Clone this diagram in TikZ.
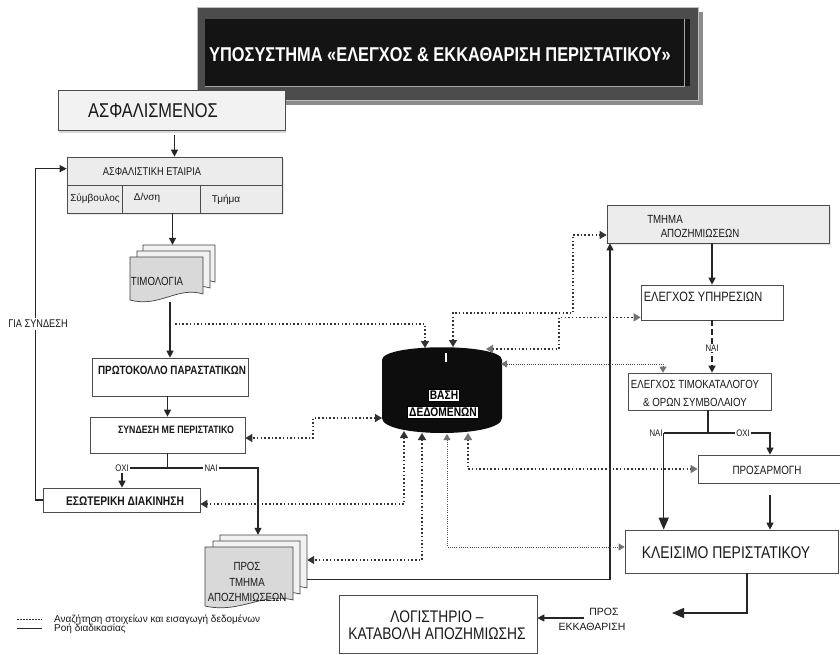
\documentclass[tikz,border=0pt]{standalone}
\usepackage{fontspec}
\setmainfont{Liberation Sans}
\newfontfamily\nar{Liberation Sans}[FakeStretch=0.82]
\usetikzlibrary{arrows.meta,shadows,calc}
\newcommand\fsz[2]{\fontsize{#1}{#2}\selectfont}
\newcommand\docsheet[5]{\draw[sheet,fill=#5] (#1,#2) -- (#3,#2) -- (#3,#4-6) .. controls ({#3-0.35*(#3-#1)},#4-14) and ({#1+0.4*(#3-#1)},#4+8) .. (#1,#4) -- cycle;}
\begin{document}
\begin{tikzpicture}[x=1pt,y=-1pt,
  box/.style={draw=black!70, line width=0.7pt, fill=white, inner sep=0pt, rectangle},
  ghost/.style={inner sep=0pt, rectangle},
  sheet/.style={draw=black!75, line width=0.7pt},
  txt/.style={inner sep=1pt, text=black!90, font=\nar\fsz{10}{12}},
  btxt/.style={inner sep=1pt, text=black!90, font=\nar\bfseries\fsz{10.5}{12}},
  dblabel/.style={rectangle, draw=black, line width=0.6pt, fill=white, inner xsep=1.5pt, inner ysep=1.5pt, text=black, font=\nar\bfseries\fsz{12.5}{13}},
  line/.style={line width=1.3pt, draw=black!85},
  flow/.style={line, -{Triangle[length=7pt,width=7pt]}},
  flowbig/.style={line, -{Triangle[length=12pt,width=10pt]}},
  dashflow/.style={line, dash pattern=on 6pt off 3pt, -{Triangle[length=7pt,width=7pt]}},
  dotl/.style={line width=1.5pt, draw=black!80, dash pattern=on 1.5pt off 2.2pt},
  dot1/.style={dotl, -{Triangle[length=7pt,width=8pt]}},
  dot2/.style={dotl, {Triangle[length=7pt,width=8pt]}-{Triangle[length=7pt,width=8pt]}},
  dotg/.style={dotl, {Triangle[length=7pt,width=8pt,color=black!55]}-{Triangle[length=7pt,width=8pt,color=black!55]}},
  tdot/.style={line width=0.8pt, draw=black!70, dash pattern=on 0.8pt off 1.4pt, {Triangle[length=6pt,width=7pt,color=black!55]}-{Triangle[length=6pt,width=7pt,color=black!55]}},
]
\useasboundingbox (0,0) rectangle (840,655);
\fill[white] (0,0) rectangle (840,655);

% ---------- title ----------
\node[ghost, minimum width=501pt, minimum height=93pt] (title) at (447.5,54) {};
\fill[black!45] (202,12) rectangle (703,105);
\fill[black!70] (title.north west) rectangle (title.south east);
\fill[black!92] (205,19) rectangle (690,86);
\draw[gray!70, line width=0.8pt] (205,86) -- (684,86) -- (684,19);
\draw[gray!50, line width=0.6pt] (title.north west) rectangle (title.south east);
\node[inner sep=0pt, text=white, font=\nar\bfseries\fsz{20}{24}] (titleT) at (440,55) {ΥΠΟΣΥΣΤΗΜΑ «ΕΛΕΓΧΟΣ \& ΕΚΚΑΘΑΡΙΣΗ ΠΕΡΙΣΤΑΤΙΚΟΥ»};

% ---------- left column ----------
\node[box, fill=gray!10, minimum width=227pt, minimum height=40pt,
  drop shadow={shadow xshift=1pt, shadow yshift=-3pt, fill=gray!60}] (asf) at (171.5,110) {};
\node[txt, font=\nar\fsz{20}{24}] (asfT) at (153,111) {ΑΣΦΑΛΙΣΜΕΝΟΣ};

\node[box, fill=gray!15, minimum width=215pt, minimum height=56pt,
  drop shadow={shadow xshift=2pt, shadow yshift=-2pt, fill=gray!35}] (ins) at (174.5,185) {};
\draw[black!70, line width=0.7pt] (ins.west) -- (ins.east) (122,185) -- (122,213) (200,185) -- (200,213);
\node[txt, font=\nar\fsz{11.3}{13}] (insT) at (152,172) {ΑΣΦΑΛΙΣΤΙΚΗ ΕΤΑΙΡΙΑ};
\node[txt, font=\fsz{10}{12}] (c1T) at (95,199) {Σύμβουλος};
\node[txt, font=\fsz{10}{12}] (c2T) at (147,198) {Δ/νση};
\node[txt, font=\fsz{10}{12}] (c3T) at (226,200) {Τμήμα};

% documents TIMOLOGIA
\docsheet{143}{245}{215}{288}{gray!10}
\docsheet{137}{251}{210}{294}{gray!10}
\docsheet{130}{257}{203}{300}{gray!30}
\node[ghost, minimum width=85pt, minimum height=57pt] (tim) at (172.5,273.5) {};
\node[txt, font=\nar\fsz{11.8}{14}] (timT) at (157,281) {ΤΙΜΟΛΟΓΙΑ};

\node[box, minimum width=156pt, minimum height=38pt] (prot) at (170,377) {};
\node[btxt, font=\nar\bfseries\fsz{12}{14}] (protT) at (172,370) {ΠΡΩΤΟΚΟΛΛΟ ΠΑΡΑΣΤΑΤΙΚΩΝ};

\node[box, minimum width=155pt, minimum height=36pt] (syn) at (167.5,435) {};
\node[btxt, font=\nar\bfseries\fsz{10.7}{12}] (synT) at (176,430) {ΣΥΝΔΕΣΗ ΜΕ ΠΕΡΙΣΤΑΤΙΚΟ};

\node[txt, font=\nar\fsz{9.5}{11}] (oxi) at (122,468) {ΟΧΙ};
\node[txt, font=\nar\fsz{9.5}{11}] (nai) at (211,468) {ΝΑΙ};

\node[box, minimum width=157pt, minimum height=24pt] (esw) at (121.5,500) {};
\node[btxt, font=\nar\bfseries\fsz{12.5}{14}] (eswT) at (125,501) {ΕΣΩΤΕΡΙΚΗ ΔΙΑΚΙΝΗΣΗ};

% documents PROS TMHMA
\docsheet{220}{535}{307}{594}{gray!10}
\docsheet{213}{541}{300}{600}{gray!10}
\docsheet{205}{547}{293}{606}{gray!30}
\node[ghost, minimum width=102pt, minimum height=73pt] (pros) at (256,571.5) {};
\node[txt, align=center, font=\nar\fsz{11.8}{15.5}] (prosT) at (247,582) {ΠΡΟΣ\\ΤΜΗΜΑ\\ΑΠΟΖΗΜΙΩΣΕΩΝ};

% ---------- database ----------
\node[ghost, minimum width=120pt, minimum height=86pt] (db) at (442,390) {};
\fill[black!95] (382,360) .. controls (382,343) and (502,343) .. (502,360) -- (502,418) .. controls (502,438) and (382,438) .. (382,418) -- cycle;
\draw[white, line width=2pt] (446,353) -- (446,362);
\node[dblabel] (dbT1l) at (444,395) {ΒΑΣΗ};
\node[dblabel] (dbT2l) at (443,412) {ΔΕΔΟΜΕΝΩΝ};
\coordinate (dbT1) at (425,348);
\coordinate (dbT2) at (453,347);
\coordinate (dbT3) at (486,349);
\coordinate (dbR) at (501,364);
\coordinate (dbL) at (382,418);
\coordinate (dbB1) at (404,431);
\coordinate (dbB2) at (422,433);
\coordinate (dbB3) at (447,434);
\coordinate (dbB4) at (468,433);

% ---------- right column ----------
\node[box, fill=gray!15, minimum width=222pt, minimum height=38pt,
  drop shadow={shadow xshift=2pt, shadow yshift=-2pt, fill=gray!40}] (tm) at (718,224) {};
\node[txt, font=\nar\fsz{11.8}{13}] (tmT1) at (665,219) {ΤΜΗΜΑ};
\node[txt, font=\nar\fsz{11.8}{13}] (tmT2) at (700,233) {ΑΠΟΖΗΜΙΩΣΕΩΝ};

\node[box, minimum width=142pt, minimum height=35pt] (ey) at (712,302.5) {};
\node[txt, font=\nar\fsz{13.5}{16}] (eyT) at (703,297) {ΕΛΕΓΧΟΣ ΥΠΗΡΕΣΙΩΝ};

\node[box, minimum width=143pt, minimum height=37pt] (tk) at (699.5,391.5) {};
\node[txt, align=center, font=\nar\fsz{11.8}{18}] (tkT) at (695,393) {ΕΛΕΓΧΟΣ ΤΙΜΟΚΑΤΑΛΟΓΟΥ\\\& ΟΡΩΝ ΣΥΜΒΟΛΑΙΟΥ};

\node[txt, font=\nar\fsz{9.5}{11}] (nai2) at (656,433) {ΝΑΙ};
\node[txt, font=\nar\fsz{9.5}{11}] (oxi2) at (743,433) {ΟΧΙ};

\node[box, minimum width=144pt, minimum height=28pt] (pa) at (770,469) {};
\node[txt, font=\nar\fsz{12}{14}] (paT) at (767,470) {ΠΡΟΣΑΡΜΟΓΗ};

\node[box, minimum width=213pt, minimum height=43pt] (kl) at (731.5,551.5) {};
\node[txt, font=\nar\fsz{17}{20}] (klT) at (726,553) {ΚΛΕΙΣΙΜΟ ΠΕΡΙΣΤΑΤΙΚΟΥ};

\node[box, minimum width=198pt, minimum height=58pt] (log) at (438,624) {};
\node[txt, align=center, font=\nar\fsz{16.8}{17.5}] (logT) at (437,625) {ΛΟΓΙΣΤΗΡΙΟ –\\ΚΑΤΑΒΟΛΗ ΑΠΟΖΗΜΙΩΣΗΣ};

\node[txt, font=\fsz{10.5}{12}] (pe1) at (604,612) {ΠΡΟΣ};
\node[txt, font=\fsz{10.5}{12}] (pe2) at (592,627) {ΕΚΚΑΘΑΡΙΣΗ};
\coordinate (peA) at (584,618);
\coordinate (klOut) at (672,613);
\coordinate (timOut) at (175,324);

% ---------- solid flows ----------
\draw[flow, shorten <=5pt] (ins.north |- asf.south) -- (ins.north);
\draw[flow] (tim.north |- ins.south) -- (tim.north);
\draw[flow] (prot.north |- tim.south) -- (prot.north);
\draw[flow] (syn.north |- prot.south) -- (syn.north);
\draw[line] (syn.south) -- (syn.south |- oxi.east);
\draw[line] (oxi.east) -- (nai.west);
\draw[flow] (oxi.south) -- (oxi.south |- esw.north);
\draw[flow] (nai.east) -| ([xshift=2pt]pros.north);
\draw[flow] (esw.west) -- ++(-7,0) |- ([yshift=-12pt]ins.north west);
\node[txt, fill=white, inner sep=2pt, font=\nar\fsz{11.2}{13}] (gia) at (38,324) {ΓΙΑ ΣΥΝΔΕΣΗ};
\draw[flow] ([yshift=-8pt]pros.east) -| ([xshift=-108pt]tm.south);

\draw[flow] (ey.north |- tm.south) -- (ey.north);
\draw[dashflow] (ey.south) -- (ey.south |- tk.north);
\node[txt, fill=white, font=\nar\fsz{9.5}{11}] (naiM) at (712,348) {ΝΑΙ};
\draw[line] ([xshift=8.5pt]tk.south) -- ([xshift=8.5pt]tk.south |- nai2.east);
\draw[line] (nai2.east) -- (oxi2.west);
\draw[flow] (oxi2.east) -| (pa.north);
\draw[flowbig] (nai2.east) -- (nai2.east |- kl.north);
\draw[flow, shorten <=12pt] (pa.south) -- (pa.south |- kl.north);
\draw[flowbig] ([xshift=15.5pt]kl.south) |- (klOut);
\draw[flow] (peA) -- (peA -| log.east);

% ---------- dotted data links ----------
\draw[dot1] (timOut) -| (dbT1);
\draw[dot2] (dbT2) |- (573,313) |- ([yshift=-11pt]tm.west);
\draw[dotg] (dbT3) -- (559,349) |- ([yshift=3pt]ey.south west);
\draw[tdot] (dbR) -| ([xshift=-36.5pt]tk.north);
\draw[dot2] (dbL) -- (313,418) |- ([yshift=-3pt]syn.east);
\draw[dot2] (dbB1) |- ([yshift=-4pt]esw.east);
\draw[dot2] (dbB2) |- ([yshift=11.5pt]pros.east);
\draw[tdot] (dbB3) |- ([yshift=4.5pt]kl.west);
\draw[dotg] (dbB4) |- (pa.west);

% ---------- legend ----------
\coordinate (lgA) at (17,619);
\coordinate (lgB) at (42,619);
\coordinate (lgC) at (17,628);
\coordinate (lgD) at (42,628);
\draw[dotl, line width=1pt, dash pattern=on 1.5pt off 1.5pt] (lgA) -- (lgB);
\draw[line, line width=1pt] (lgC) -- (lgD);
\node[txt, anchor=west, font=\fsz{10}{11}] (lg1) at (53,620) {Αναζήτηση στοιχείων και εισαγωγή δεδομένων};
\node[txt, anchor=west, font=\fsz{10}{11}] (lg2) at (53,629) {Ροή διαδικασίας};
\end{tikzpicture}
\end{document}
